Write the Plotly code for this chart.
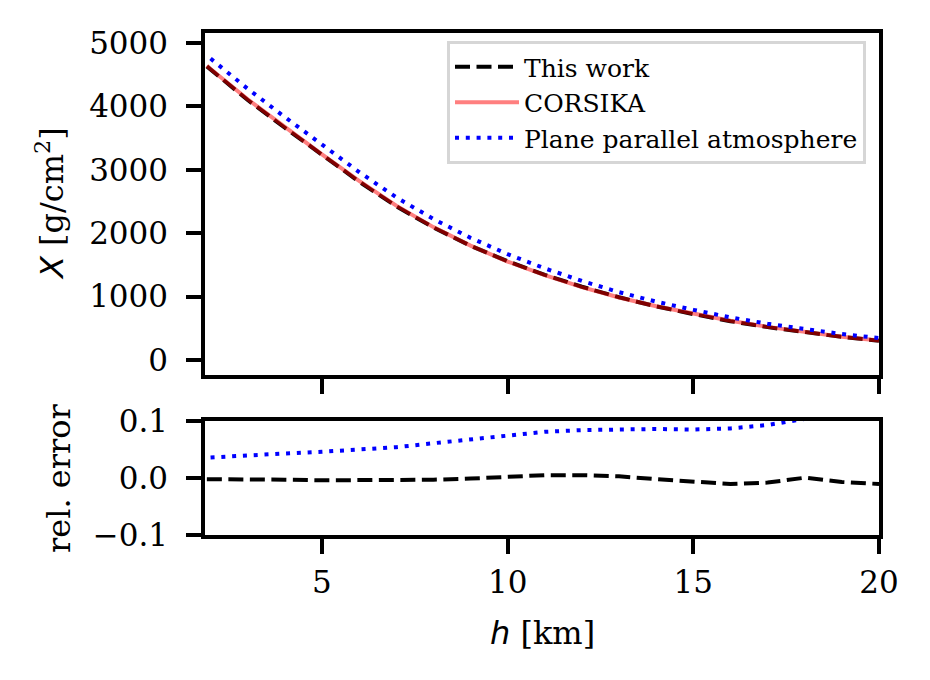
import plotly.graph_objects as go

# ---- data ----
h_model = [1.9, 2, 3, 4, 5, 6, 7, 8, 9, 10, 11, 12, 13, 14, 15, 16, 17, 18, 19, 20]
x_corsika = [4640, 4590, 4113, 3674, 3242, 2824, 2435, 2096, 1804, 1553, 1337,
             1149, 986, 847, 729, 618, 522, 438, 367, 307]
x_this_work = [4631, 4581, 4101, 3663, 3229, 2813, 2425, 2090, 1802, 1556, 1344,
               1155, 989, 845, 724, 612, 518, 438, 364, 304]
err_this_work = [-0.002, -0.002, -0.003, -0.003, -0.004, -0.004, -0.004, -0.003,
                 -0.001, 0.002, 0.005, 0.005, 0.003, -0.002, -0.007, -0.0105,
                 -0.008, 0.0005, -0.007, -0.0105]

h_plane = [2, 3, 4, 5, 6, 7, 8, 9, 10, 11, 12, 13, 14, 15, 16, 17, 18, 19, 20]
x_plane = [4755, 4278, 3832, 3391, 2965, 2566, 2224, 1927, 1669, 1445, 1246,
           1070, 920, 791, 672, 571, 483, 409, 345]
err_plane = [0.036, 0.040, 0.043, 0.046, 0.050, 0.054, 0.061, 0.068, 0.075,
             0.081, 0.084, 0.085, 0.086, 0.085, 0.087, 0.093, 0.103, 0.114, 0.125]

x_ticks = [5, 10, 15, 20]
y_ticks_top = [0, 1000, 2000, 3000, 4000, 5000]
y_ticks_bottom = [-0.1, 0.0, 0.1]

# ---- style ----
W, H = 930, 680
OFF = 8  # page body margin offset compensation (px)
SERIF = "DejaVu Serif"
TICK_FONT = dict(family=SERIF, size=31, color="black")
LW_AX = 3.5
DASH = "15px,6.5px"
DOT = "4px,6.8px"


def px_x(v):
    return (v - OFF) / W


def px_y(v):
    return (H - (v - OFF)) / H


fig = go.Figure()

fig.add_trace(go.Scatter(x=h_model, y=x_this_work, mode="lines", name="This work",
                         line=dict(color="black", width=4, dash=DASH),
                         xaxis="x", yaxis="y"))
fig.add_trace(go.Scatter(x=h_model, y=x_corsika, mode="lines", name="CORSIKA",
                         line=dict(color="rgba(255,0,0,0.5)", width=4),
                         xaxis="x", yaxis="y"))
fig.add_trace(go.Scatter(x=h_plane, y=x_plane, mode="lines",
                         name="Plane parallel atmosphere",
                         line=dict(color="blue", width=4, dash=DOT),
                         xaxis="x", yaxis="y"))

fig.add_trace(go.Scatter(x=h_model, y=err_this_work, mode="lines", showlegend=False,
                         line=dict(color="black", width=4, dash=DASH),
                         xaxis="x2", yaxis="y2"))
fig.add_trace(go.Scatter(x=h_plane, y=err_plane, mode="lines", showlegend=False,
                         line=dict(color="blue", width=4, dash=DOT),
                         xaxis="x2", yaxis="y2"))

xdom = [px_x(205), px_x(879)]
common = dict(showline=True, mirror=True, linewidth=LW_AX, linecolor="black",
              ticks="outside", ticklen=15, tickwidth=LW_AX, tickcolor="black",
              showgrid=False, zeroline=False, tickfont=TICK_FONT, automargin=False)

fig.update_layout(
    template="none",
    width=W, height=H,
    margin=dict(l=0, r=0, t=0, b=0, pad=0, autoexpand=False),
    paper_bgcolor="white", plot_bgcolor="white",
    xaxis=dict(domain=xdom, anchor="y", range=[1.85, 20.0001], tickvals=x_ticks,
               showticklabels=False, **common),
    yaxis=dict(domain=[px_y(375), px_y(33)], anchor="x", range=[-237, 5158],
               tickvals=y_ticks_top, tickformat="d", ticklabelstandoff=12, **common),
    xaxis2=dict(domain=xdom, anchor="y2", range=[1.85, 20.0001], tickvals=x_ticks,
                ticklabelstandoff=2, **common),
    yaxis2=dict(domain=[px_y(535), px_y(421)], anchor="x2",
                range=[-0.10001, 0.10001], tickvals=y_ticks_bottom, tickformat=".1f",
                ticklabelstandoff=12, **common),
    legend=dict(x=px_x(866), y=px_y(41), xanchor="right", yanchor="top",
                bgcolor="white", bordercolor="#d6d6d6", borderwidth=3,
                itemwidth=64,
                font=dict(family=SERIF, size=25, color="black")),
    annotations=[
        dict(text='<span style="font-family:DejaVu Sans"><i>X</i></span> [g/cm<sup>2</sup>]',
             x=px_x(50), y=px_y(204), xref="paper", yref="paper", showarrow=False,
             xanchor="center", yanchor="middle",
             textangle=-90, font=dict(family=SERIF, size=32, color="black")),
        dict(text="rel. error", x=px_x(59), y=px_y(478), xref="paper", yref="paper",
             showarrow=False, textangle=-90, xanchor="center", yanchor="middle",
             font=dict(family=SERIF, size=32, color="black")),
        dict(text='<span style="font-family:DejaVu Sans"><i>h</i></span> [km]',
             x=px_x(542), y=px_y(633), xref="paper", yref="paper", showarrow=False,
             xanchor="center", yanchor="middle",
             font=dict(family=SERIF, size=32, color="black")),
    ],
)

fig.write_html("out.html")
